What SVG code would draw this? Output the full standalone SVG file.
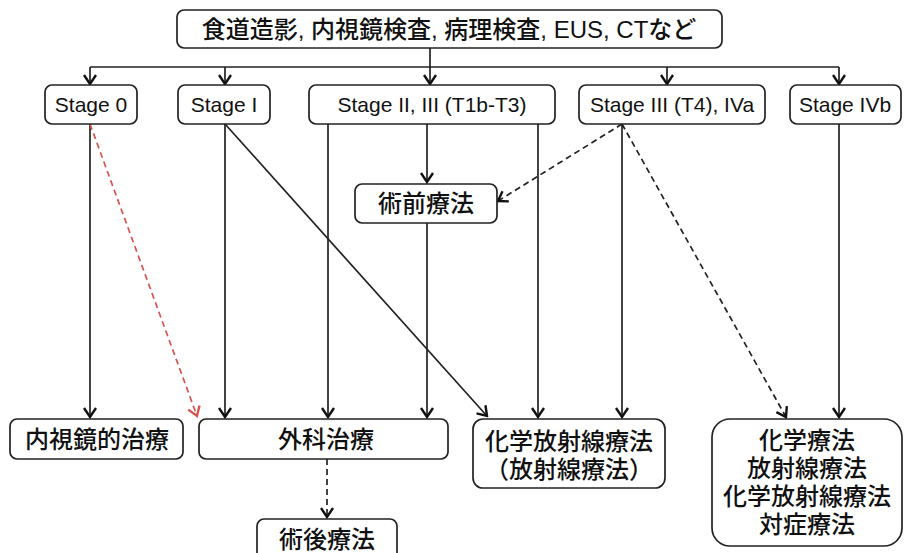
<svg xmlns="http://www.w3.org/2000/svg" width="907" height="553" viewBox="0 0 907 553">
<style>
.box{fill:#fff;stroke:#222;stroke-width:1.7}
.lat{font-family:"Liberation Sans","Noto Sans CJK JP",sans-serif;font-size:21px;fill:#111;text-anchor:middle}
.jp{font-family:"Liberation Sans","Noto Sans CJK JP",sans-serif;font-size:24px;font-weight:500;fill:#111;text-anchor:middle}
.ln{fill:none;stroke:#222;stroke-width:1.7}
.dash{stroke-dasharray:6 4}
.red{stroke:#d9534f}
</style>
<defs>
<marker id="ah" viewBox="-11 -8 13 16" markerWidth="13" markerHeight="16" refX="0" refY="0" orient="auto" markerUnits="userSpaceOnUse">
<path d="M-9,-6 L0,0 L-9,6" fill="none" stroke="#111" stroke-width="2.4"/>
</marker>
<marker id="ahr" viewBox="-11 -8 13 16" markerWidth="13" markerHeight="16" refX="0" refY="0" orient="auto" markerUnits="userSpaceOnUse">
<path d="M-9,-6 L0,0 L-9,6" fill="none" stroke="#d9534f" stroke-width="2.4"/>
</marker>
</defs>
<rect width="907" height="553" fill="#fff"/>
<g id="connectors">
<path class="ln" d="M430,48 V67"/>
<path class="ln" d="M90,67 H839"/>
<path class="ln" d="M90,67 V84" marker-end="url(#ah)"/>
<path class="ln" d="M225,67 V84" marker-end="url(#ah)"/>
<path class="ln" d="M430,67 V84" marker-end="url(#ah)"/>
<path class="ln" d="M667,67 V84" marker-end="url(#ah)"/>
<path class="ln" d="M839,67 V84" marker-end="url(#ah)"/>
<path class="ln" d="M90,124 V417" marker-end="url(#ah)"/>
<path class="ln dash red" d="M90,124 L197,416" marker-end="url(#ahr)"/>
<path class="ln" d="M225,124 V417" marker-end="url(#ah)"/>
<path class="ln" d="M225,124 L487,416" marker-end="url(#ah)"/>
<path class="ln" d="M328,124 V417" marker-end="url(#ah)"/>
<path class="ln" d="M427,124 V182" marker-end="url(#ah)"/>
<path class="ln" d="M538,124 V417" marker-end="url(#ah)"/>
<path class="ln" d="M427,223 V417" marker-end="url(#ah)"/>
<path class="ln dash" d="M622,124 L498,201" marker-end="url(#ah)"/>
<path class="ln" d="M622,124 V417" marker-end="url(#ah)"/>
<path class="ln dash" d="M622,124 L786,417" marker-end="url(#ah)"/>
<path class="ln" d="M839,124 V417" marker-end="url(#ah)"/>
<path class="ln dash" d="M327,459 V517" marker-end="url(#ah)"/>
</g>
<g id="n-exam">
<rect class="box" x="177" y="10" width="545" height="38" rx="7"/>
<text class="jp" x="449" y="38">食道造影, 内視鏡検査, 病理検査, EUS, CTなど</text>
</g>
<g id="n-stage0">
<rect class="box" x="45" y="85" width="92" height="39" rx="7"/>
<text class="lat" x="91" y="112">Stage 0</text>
</g>
<g id="n-stage1">
<rect class="box" x="178" y="85" width="92" height="39" rx="7"/>
<text class="lat" x="224" y="112">Stage I</text>
</g>
<g id="n-stage2-3">
<rect class="box" x="309" y="85" width="246" height="39" rx="7"/>
<text class="lat" x="432" y="112">Stage II, III (T1b-T3)</text>
</g>
<g id="n-stage3-4a">
<rect class="box" x="579" y="85" width="186" height="39" rx="7"/>
<text class="lat" x="672" y="112">Stage III (T4), IVa</text>
</g>
<g id="n-stage4b">
<rect class="box" x="790" y="85" width="111" height="39" rx="7"/>
<text class="lat" x="845" y="112">Stage IVb</text>
</g>
<g id="n-preop">
<rect class="box" x="355" y="184" width="142" height="39" rx="7"/>
<text class="jp" x="426" y="212">術前療法</text>
</g>
<g id="n-endo">
<rect class="box" x="10" y="419" width="173" height="40" rx="7"/>
<text class="jp" x="97" y="448">内視鏡的治療</text>
</g>
<g id="n-surgery">
<rect class="box" x="199" y="419" width="249" height="40" rx="7"/>
<text class="jp" x="326" y="448">外科治療</text>
</g>
<g id="n-postop">
<rect class="box" x="257" y="519" width="140" height="44" rx="7"/>
<text class="jp" x="327" y="548">術後療法</text>
</g>
<g id="n-crt">
<rect class="box" x="473" y="419" width="192" height="69" rx="10"/>
<text class="jp" x="569" y="450">化学放射線療法</text>
<text class="jp" x="569" y="478">（放射線療法）</text>
</g>
<g id="n-palliative">
<rect class="box" x="712" y="419" width="190" height="127" rx="18"/>
<text class="jp" x="807" y="449">化学療法</text>
<text class="jp" x="807" y="477">放射線療法</text>
<text class="jp" x="807" y="505">化学放射線療法</text>
<text class="jp" x="807" y="533">対症療法</text>
</g>
</svg>
